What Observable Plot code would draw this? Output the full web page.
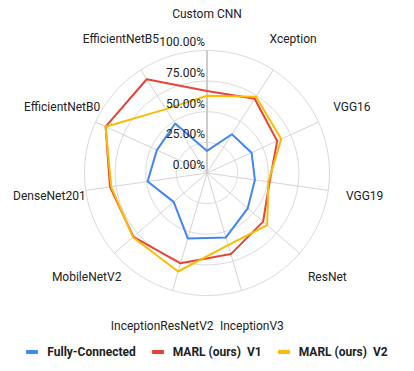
<!DOCTYPE html>
<html>
<head>
<meta charset="utf-8">
<script src="https://cdn.jsdelivr.net/npm/d3@7"></script>
<script src="https://cdn.jsdelivr.net/npm/@observablehq/plot@0.6"></script>
<style>
  html, body { margin: 0; padding: 0; background: #fff; }
  body { width: 414px; height: 371px; overflow: hidden; font-family: Roboto, "Noto Sans", sans-serif; }
  #chart svg { display: block; }
  #legend { display: flex; justify-content: center; align-items: center; height: 24px; margin-top: 0; }
  .item { display: flex; align-items: center; margin: 0 8px; }
  .sw { width: 12px; height: 4px; border-radius: 1px; margin-right: 9px; }
  .lab { font-weight: bold; font-size: 12px; color: #222; white-space: pre; }
</style>
</head>
<body>
<div id="chart"></div>
<div id="legend"></div>
<script>
const categories = ["Custom CNN", "Xception", "VGG16", "VGG19", "ResNet", "InceptionV3", "InceptionResNetV2", "MobileNetV2", "DenseNet201", "EfficientNetB0", "EfficientNetB5"];
const fullyConnected = [18, 37.6, 40, 39.5, 44, 54.8, 55.7, 36, 49, 45, 48];
const marlV1 = [67, 72, 63, 51.6, 60.6, 69, 76.8, 79.5, 80, 91, 91];
const marlV2 = [63, 74, 66.6, 50.6, 65, 61.4, 83.8, 80, 79, 91, 62];
const seriesNames = ["Fully-Connected", "MARL (ours)  V1", "MARL (ours)  V2"];
const seriesColors = ["#4285F4", "#EA4335", "#FBBC04"];
const tickValues = [0, 25, 50, 75, 100];

const W = 414, H = 340, cx = 206.5, cy = 172.5, Rpx = 122.5;
const n = categories.length;
const ang = i => (2 * Math.PI * i) / n;

const seriesData = [fullyConnected, marlV1, marlV2];
const pts = [];
seriesData.forEach((vals, s) => {
  vals.forEach((v, i) => {
    pts.push({series: seriesNames[s], x: (v / 100) * Math.sin(ang(i)), y: (v / 100) * Math.cos(ang(i))});
  });
});

const circles = [];
tickValues.filter(t => t > 0).forEach(t => {
  for (let k = 0; k <= 180; k++) {
    const a = (2 * Math.PI * k) / 180;
    circles.push({t, x: (t / 100) * Math.sin(a), y: (t / 100) * Math.cos(a)});
  }
});

const spokes = categories.map((c, i) => ({c, i, x: Math.sin(ang(i)), y: Math.cos(ang(i))}));
const labels = categories.map((c, i) => ({c, x: 1.3 * Math.sin(ang(i)), y: 1.3 * Math.cos(ang(i))}));

const plot = Plot.plot({
  width: W,
  height: H,
  margin: 0,
  style: {fontFamily: "Roboto, 'Noto Sans', sans-serif", fontSize: "12px", color: "#222"},
  x: {domain: [-cx / Rpx, (W - cx) / Rpx], axis: null},
  y: {domain: [-(H - cy) / Rpx, cy / Rpx], axis: null},
  color: {domain: seriesNames, range: seriesColors},
  marks: [
    Plot.line(circles, {x: "x", y: "y", z: "t", stroke: "#d9d9d9", strokeWidth: 1}),
    Plot.link(spokes.filter(d => d.i > 0), {x1: 0, y1: 0, x2: "x", y2: "y", stroke: "#d4d4d4", strokeWidth: 1}),
    Plot.link(spokes.filter(d => d.i === 0), {x1: 0, y1: 0, x2: "x", y2: "y", stroke: "#cccccc", strokeWidth: 2}),
    Plot.line(pts, {x: "x", y: "y", z: "series", stroke: "series", strokeWidth: 2, curve: "linear-closed", strokeLinejoin: "miter"}),
    Plot.text(tickValues, {x: 0, y: d => d / 100, text: d => d.toFixed(2) + "%", textAnchor: "end", dx: -2, dy: -8, fontSize: 12, fill: "#222"}),
    Plot.text(labels, {x: "x", y: "y", text: "c", textAnchor: "middle", fontSize: 12, fill: "#222"})
  ]
});
document.getElementById("chart").appendChild(plot);

const legend = document.getElementById("legend");
seriesNames.forEach((name, i) => {
  const item = document.createElement("div");
  item.className = "item";
  const sw = document.createElement("div");
  sw.className = "sw";
  sw.style.background = seriesColors[i];
  const lab = document.createElement("span");
  lab.className = "lab";
  lab.textContent = name;
  item.appendChild(sw);
  item.appendChild(lab);
  legend.appendChild(item);
});
</script>
</body>
</html>
